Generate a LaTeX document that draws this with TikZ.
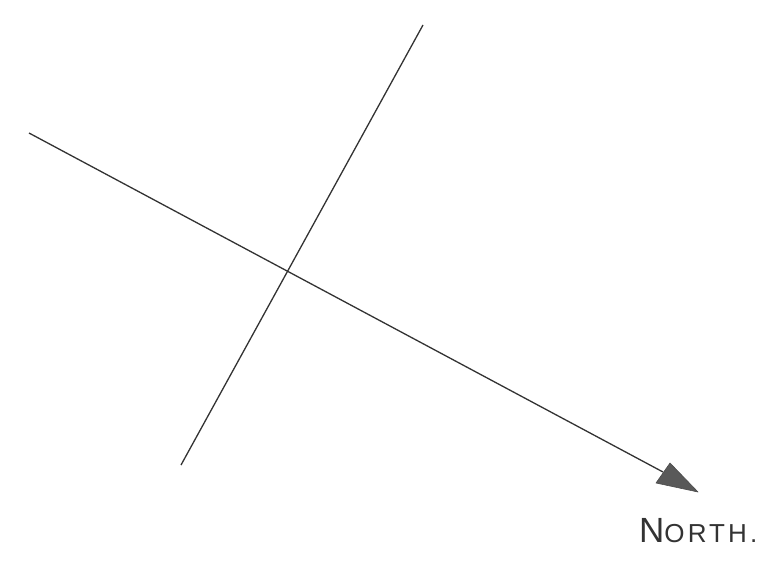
\documentclass[tikz,border=0pt]{standalone}
\usepackage{fontspec}
\newfontfamily\handfont[LetterSpace=12]{Liberation Sans}
\begin{document}
\begin{tikzpicture}[x=1pt,y=-1pt,
  pencil/.style={line width=1.3pt, draw=black!80},
  headfill/.style={fill=black!65, draw=black!70, line width=0.6pt, line join=round}]
\useasboundingbox (0,0) rectangle (767,562);
\coordinate (w) at (29,133);
\coordinate (tip) at (698,492);
\coordinate (n) at (423,25);
\coordinate (s) at (181,465);
\coordinate (hb) at (663,472);
\draw[pencil] (w) -- (hb);
\draw[pencil] (s) -- (n);
\draw[headfill] (tip) -- (670,463) -- (656,483) -- cycle;
\node[anchor=west, inner sep=0pt, text=black!80] (label) at (639,531) {\handfont\fontsize{35}{35}\selectfont N\fontsize{26}{26}\selectfont ORTH.};
\end{tikzpicture}
\end{document}
